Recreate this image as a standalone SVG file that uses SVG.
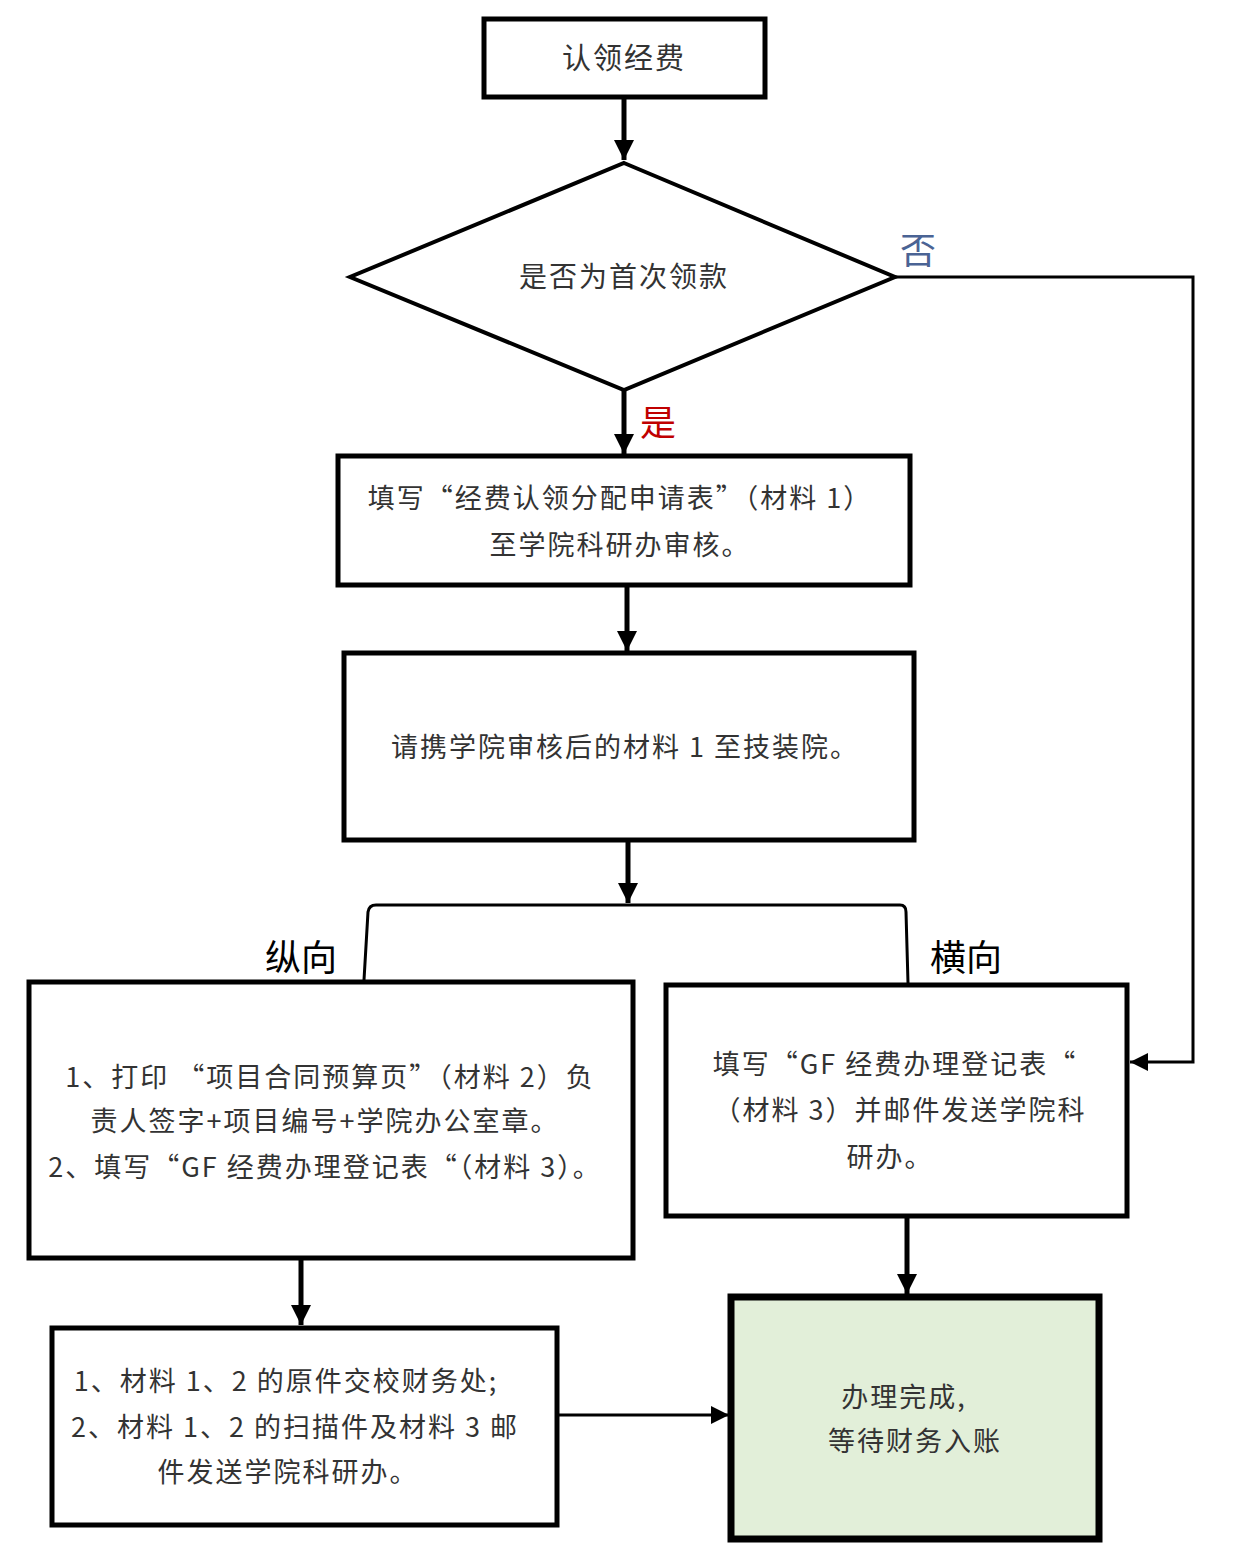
<svg xmlns="http://www.w3.org/2000/svg" width="1233" height="1563" viewBox="0 0 1233 1563">
<style>
.box{fill:#fff;stroke:#000;stroke-width:5}
.t{font-family:"Noto Sans CJK SC","Noto Sans",sans-serif;font-size:27px;fill:#333;text-anchor:middle;letter-spacing:2px}
.lbl{font-family:"Noto Sans CJK SC","Noto Sans",sans-serif;font-size:36px;text-anchor:start}
.c{fill:none;stroke:#000;stroke-width:5}
.c3{fill:none;stroke:#000;stroke-width:3}
</style>
<defs>
<marker id="ah" viewBox="0 0 10 10" refX="10" refY="5" markerWidth="4" markerHeight="4" markerUnits="strokeWidth" orient="auto">
<path d="M0,0 L10,5 L0,10 Z" fill="#000"/>
</marker>
<marker id="ah3" viewBox="0 0 10 10" refX="10" refY="5" markerWidth="6" markerHeight="6" markerUnits="strokeWidth" orient="auto">
<path d="M0,0 L10,5 L0,10 Z" fill="#000"/>
</marker>
</defs>
<rect width="1233" height="1563" fill="#fff"/>
<g id="connectors">
<line class="c" x1="624" y1="97" x2="624" y2="160" marker-end="url(#ah)"/>
<line class="c" x1="624" y1="390" x2="624" y2="454" marker-end="url(#ah)"/>
<path class="c3" d="M895,277 H1193 V1062 H1130" marker-end="url(#ah3)"/>
<line class="c" x1="627" y1="585" x2="627" y2="651" marker-end="url(#ah)"/>
<line class="c" x1="628" y1="840" x2="628" y2="903" marker-end="url(#ah)"/>
<path class="c3" d="M364,980 L368,912 Q369,905 376,905 H900 Q906,905 906,912 L908,983"/>
<line class="c" x1="301" y1="1258" x2="301" y2="1325" marker-end="url(#ah)"/>
<line class="c3" x1="557" y1="1415" x2="729" y2="1415" marker-end="url(#ah3)"/>
<line class="c" x1="907" y1="1216" x2="907" y2="1294" marker-end="url(#ah)"/>
</g>
<g id="n1">
<rect class="box" x="484" y="19" width="281" height="78"/>
<text class="t" x="624" y="69" style="font-size:29px">认领经费</text>
</g>
<g id="n2">
<polygon points="624,163 895,277 624,390 350,277" fill="#fff" stroke="#000" stroke-width="4"/>
<text class="t" x="624" y="287" style="font-size:28px">是否为首次领款</text>
</g>
<text class="lbl" x="900" y="264" fill="#4a6394">否</text>
<text class="lbl" x="640" y="436" fill="#c00000">是</text>
<g id="n3">
<rect class="box" x="338" y="456" width="572" height="129"/>
<text class="t" x="620" y="508">填写“经费认领分配申请表”（材料 1）</text>
<text class="t" x="620" y="555">至学院科研办审核。</text>
</g>
<g id="n4">
<rect class="box" x="344" y="653" width="570" height="187"/>
<text class="t" x="625" y="757">请携学院审核后的材料 1 至技装院。</text>
</g>
<text class="lbl" x="265" y="971" fill="#000">纵向</text>
<text class="lbl" x="930" y="971" fill="#000">横向</text>
<g id="n5">
<rect class="box" x="29" y="982" width="604" height="276"/>
<text class="t" x="330" y="1087">1、打印 “项目合同预算页”（材料 2）负</text>
<text class="t" x="325" y="1131">责人签字+项目编号+学院办公室章。</text>
<text class="t" x="325" y="1177">2、填写“GF 经费办理登记表“（材料 3）。</text>
</g>
<g id="n6">
<rect class="box" x="666" y="985" width="461" height="231"/>
<text class="t" x="895" y="1074">填写“GF 经费办理登记表“</text>
<text class="t" x="900" y="1120">（材料 3）并邮件发送学院科</text>
<text class="t" x="890" y="1167">研办。</text>
</g>
<g id="n7">
<rect class="box" x="52" y="1328" width="505" height="197"/>
<text class="t" x="286" y="1391">1、材料 1、2 的原件交校财务处;</text>
<text class="t" x="295" y="1437">2、材料 1、2 的扫描件及材料 3 邮</text>
<text class="t" x="288" y="1482">件发送学院科研办。</text>
</g>
<g id="n8">
<rect x="731" y="1297" width="368" height="242" fill="#e2efd9" stroke="#000" stroke-width="7"/>
<text class="t" x="904" y="1407">办理完成,</text>
<text class="t" x="915" y="1451">等待财务入账</text>
</g>
</svg>
